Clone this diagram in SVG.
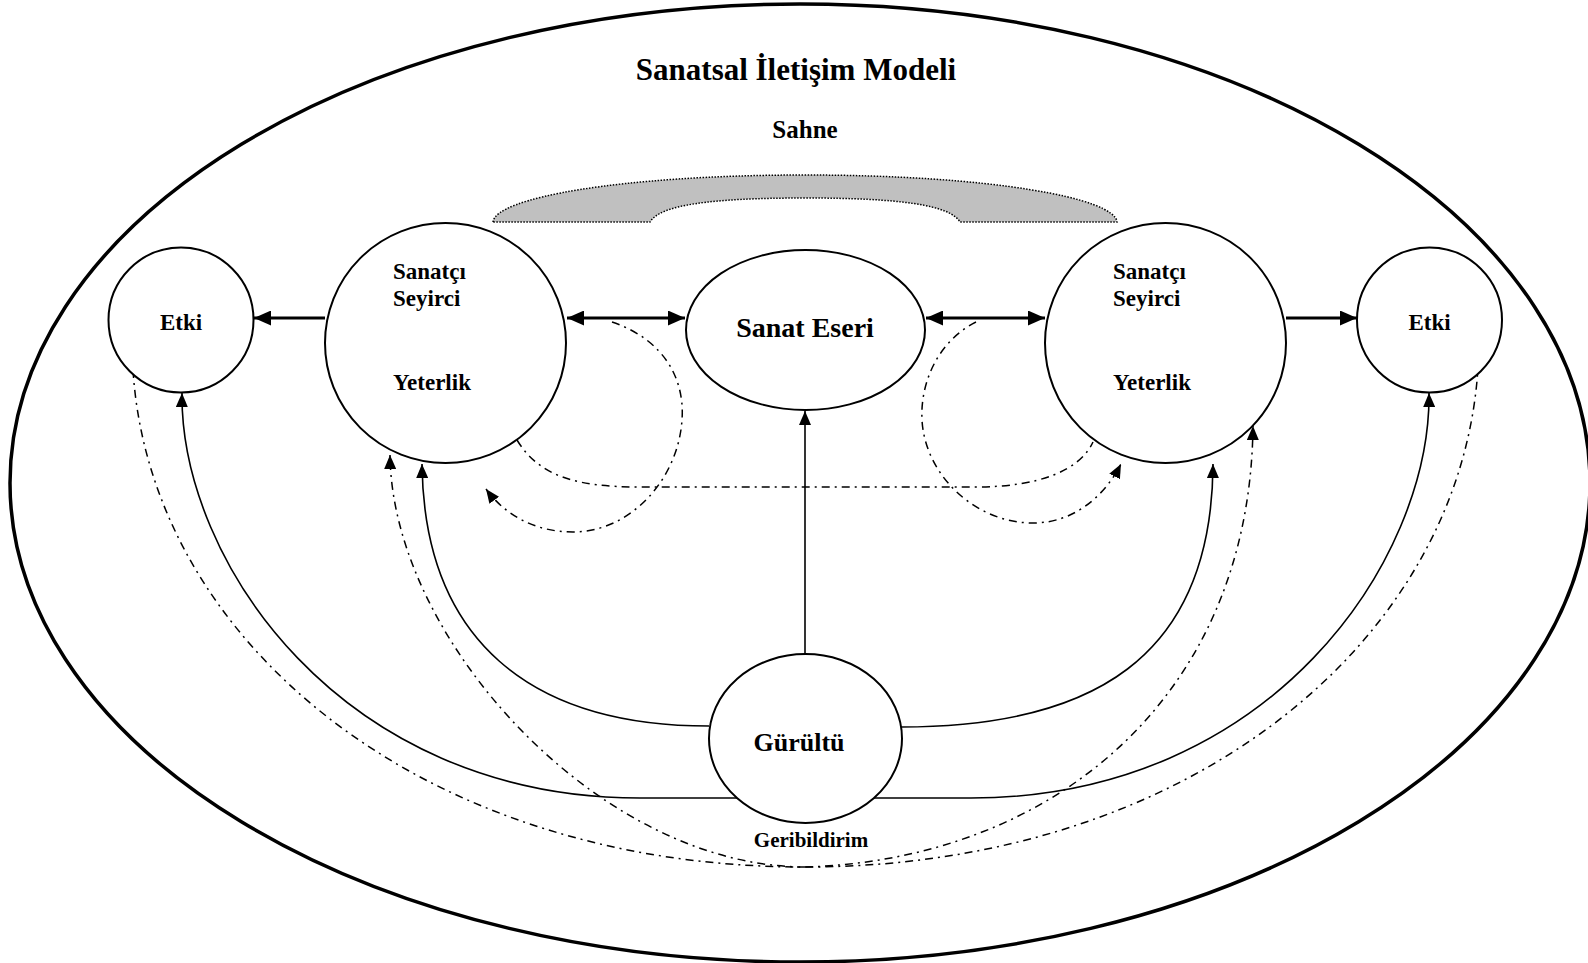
<svg xmlns="http://www.w3.org/2000/svg" width="1588" height="963" viewBox="0 0 1588 963">
<style>
text{font-family:"Liberation Serif","Times New Roman",serif;font-weight:bold;fill:#000}
.node{fill:#fff;stroke:#000;stroke-width:2}
.thin{fill:none;stroke:#000;stroke-width:1.6}
.thick{fill:none;stroke:#000;stroke-width:3.2}
.dd{fill:none;stroke:#000;stroke-width:1.5;stroke-dasharray:8 5 2 5}
</style>
<defs>
<marker id="ah" viewBox="0 0 14 12" refX="14" refY="6" markerWidth="14" markerHeight="12" orient="auto-start-reverse" markerUnits="userSpaceOnUse"><path d="M0,0 L14,6 L0,12 z" fill="#000"/></marker>
<marker id="ahb" viewBox="0 0 17 15" refX="17" refY="7.5" markerWidth="17" markerHeight="15" orient="auto-start-reverse" markerUnits="userSpaceOnUse"><path d="M0,0 L17,7.5 L0,15 z" fill="#000"/></marker>
</defs>
<rect width="1588" height="963" fill="#fff"/>
<g id="frame"><ellipse cx="800" cy="483" rx="790" ry="479" fill="none" stroke="#000" stroke-width="3.5"/></g>
<g id="title"><text x="796" y="80" font-size="31" text-anchor="middle">Sanatsal İletişim Modeli</text></g>
<g id="sahne"><text x="805" y="138" font-size="25" text-anchor="middle">Sahne</text>
<path d="M493,222 C495,198 620,175 805,175 C990,175 1115,198 1117,222 L960,222 C950,205 900,198 805,198 C710,198 660,205 650,222 Z" fill="#c0c0c0" stroke="#000" stroke-width="1.5" stroke-dasharray="1.5 1.5"/></g>
<g id="connectors">
<path class="thick" d="M325,318 L254,318" marker-end="url(#ahb)"/>
<path class="thick" d="M1286,318 L1357,318" marker-end="url(#ahb)"/>
<path class="thick" d="M567,318 L685,318" marker-start="url(#ahb)" marker-end="url(#ahb)"/>
<path class="thick" d="M926,318 L1045,318" marker-start="url(#ahb)" marker-end="url(#ahb)"/>
<path class="thin" d="M805,654 L805,411" marker-end="url(#ah)"/>
<path class="thin" d="M737,798 L640,798 C340,798 180,560 182,393" marker-end="url(#ah)"/>
<path class="thin" d="M709,726 C530,726 424,640 422,464" marker-end="url(#ah)"/>
<path class="thin" d="M901,727 C1090,727 1212,660 1213,464" marker-end="url(#ah)"/>
<path class="thin" d="M874,798 L971,798 C1271,798 1431,560 1429,393" marker-end="url(#ah)"/>
<path class="dd" d="M133,370 C150,640 420,867 805,867 C1190,867 1461,640 1478,368"/>
<path class="dd" d="M805,867 C600,867 392,640 390,455" marker-end="url(#ah)"/>
<path class="dd" d="M805,867 C1050,860 1250,700 1253,426" marker-end="url(#ah)"/>
<path class="dd" d="M612,322 C665,340 685,380 682,420 C678,480 630,532 573,532 C535,532 505,515 486,489" marker-end="url(#ah)"/>
<path class="dd" d="M976,322 C940,340 920,380 922,420 C925,475 975,523 1033,523 C1075,523 1105,495 1121,464" marker-end="url(#ah)"/>
<path class="dd" d="M517,440 C540,478 580,487 640,487 L975,487 C1040,487 1080,470 1093,442"/>
</g>
<g id="etki-left"><ellipse class="node" cx="181" cy="320" rx="72.5" ry="72.5"/><text x="181" y="330" font-size="23" text-anchor="middle">Etki</text></g>
<g id="sanatci-left"><ellipse class="node" cx="445.5" cy="343" rx="120.5" ry="120"/><text x="393" y="279" font-size="23">Sanatçı</text><text x="393" y="306" font-size="23">Seyirci</text><text x="393" y="390" font-size="23">Yeterlik</text></g>
<g id="sanat-eseri"><ellipse class="node" cx="805.5" cy="330" rx="119.5" ry="80"/><text x="805" y="337" font-size="28" text-anchor="middle">Sanat Eseri</text></g>
<g id="sanatci-right"><ellipse class="node" cx="1165.5" cy="343" rx="120.5" ry="120"/><text x="1113" y="279" font-size="23">Sanatçı</text><text x="1113" y="306" font-size="23">Seyirci</text><text x="1113" y="390" font-size="23">Yeterlik</text></g>
<g id="etki-right"><ellipse class="node" cx="1429.5" cy="320" rx="72.5" ry="72.5"/><text x="1429.5" y="330" font-size="23" text-anchor="middle">Etki</text></g>
<g id="gurultu"><ellipse class="node" cx="805.5" cy="738.5" rx="96.5" ry="84.5"/><text x="799" y="751" font-size="26" text-anchor="middle">Gürültü</text></g>
<g id="geribildirim"><text x="811" y="847" font-size="21" text-anchor="middle">Geribildirim</text></g>
</svg>
